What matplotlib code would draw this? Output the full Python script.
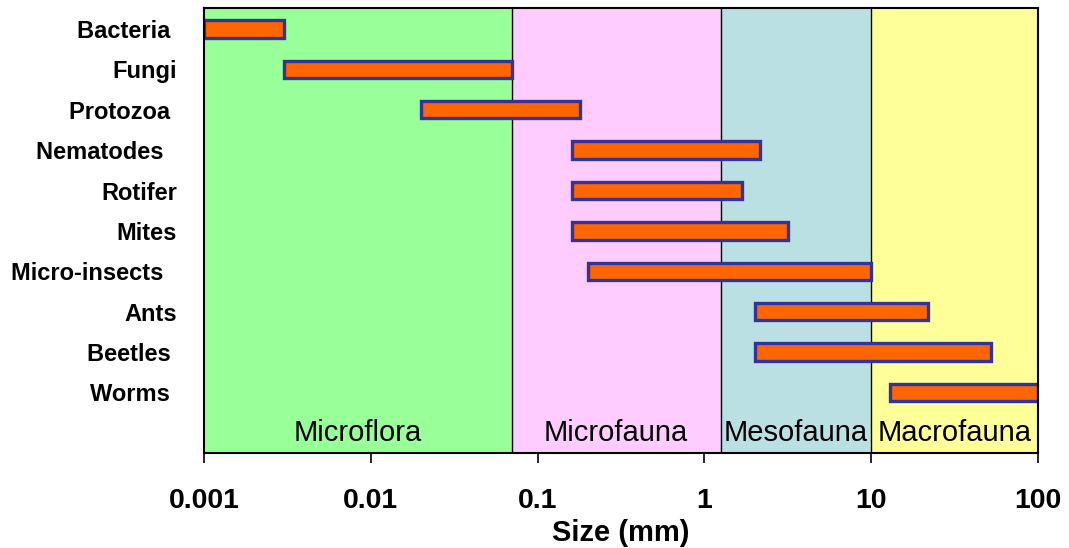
import matplotlib.pyplot as plt
import numpy as np

# organisms and their size ranges (mm)
organisms = ['Bacteria ', 'Fungi', 'Protozoa ', 'Nematodes  ', 'Rotifer', 'Mites',
             'Micro-insects  ', 'Ants', 'Beetles ', 'Worms ']
size_min = [0.001, 0.003, 0.02, 0.16, 0.16, 0.16, 0.2, 2.0, 2.0, 13]
size_max = [0.003, 0.07, 0.18, 2.15, 1.68, 3.18, 10, 22, 52, 100]

# faunal groups (background bands)
groups = ['Microflora', 'Microfauna', 'Mesofauna', 'Macrofauna']
group_lo = [0.001, 0.07, 1.25, 10]
group_hi = [0.07, 1.25, 10, 100]
group_colors = ['#99FF99', '#FFCCFF', '#BBE0E3', '#FFFF99']

xticks = [0.001, 0.01, 0.1, 1, 10, 100]
xticklabels = ['0.001', '0.01', '0.1', '1', '10', '100']

plt.rcParams['font.family'] = ['Liberation Sans', 'DejaVu Sans']

fig = plt.figure(figsize=(10.69, 5.48), dpi=100)
ax = fig.add_axes([0.1908, 0.1734, 0.7803, 0.812])

for lo, hi, c, name in zip(group_lo, group_hi, group_colors, groups):
    ax.axvspan(lo, hi, color=c, zorder=0)
    ax.axvline(hi, color='black', lw=1, zorder=1)
    ax.text(np.sqrt(lo * hi), 10.0, name, ha='center', va='center', fontsize=21, zorder=3)

y = np.arange(len(organisms))
ax.barh(y, np.array(size_max) - np.array(size_min), left=size_min, height=0.43,
        color='#FF6600', edgecolor='#333399', linewidth=2.4, zorder=2)

ax.set_xscale('log')
ax.set_xlim(0.001, 100)
ax.set_ylim(10.5, -0.52)
ax.set_xticks(xticks)
ax.set_xticklabels(xticklabels, fontsize=20.5, fontweight='bold')
ax.minorticks_off()
ax.tick_params(axis='x', length=7, width=1.2, pad=18)
ax.set_yticks(y)
ax.set_yticklabels(organisms, fontsize=17, fontweight='bold')
ax.tick_params(axis='y', length=0, pad=19.5)
ax.set_xlabel('Size (mm)', fontsize=21, fontweight='bold', labelpad=4)

for s in ax.spines.values():
    s.set_linewidth(1.5)

fig.savefig('out.png', dpi=100)
